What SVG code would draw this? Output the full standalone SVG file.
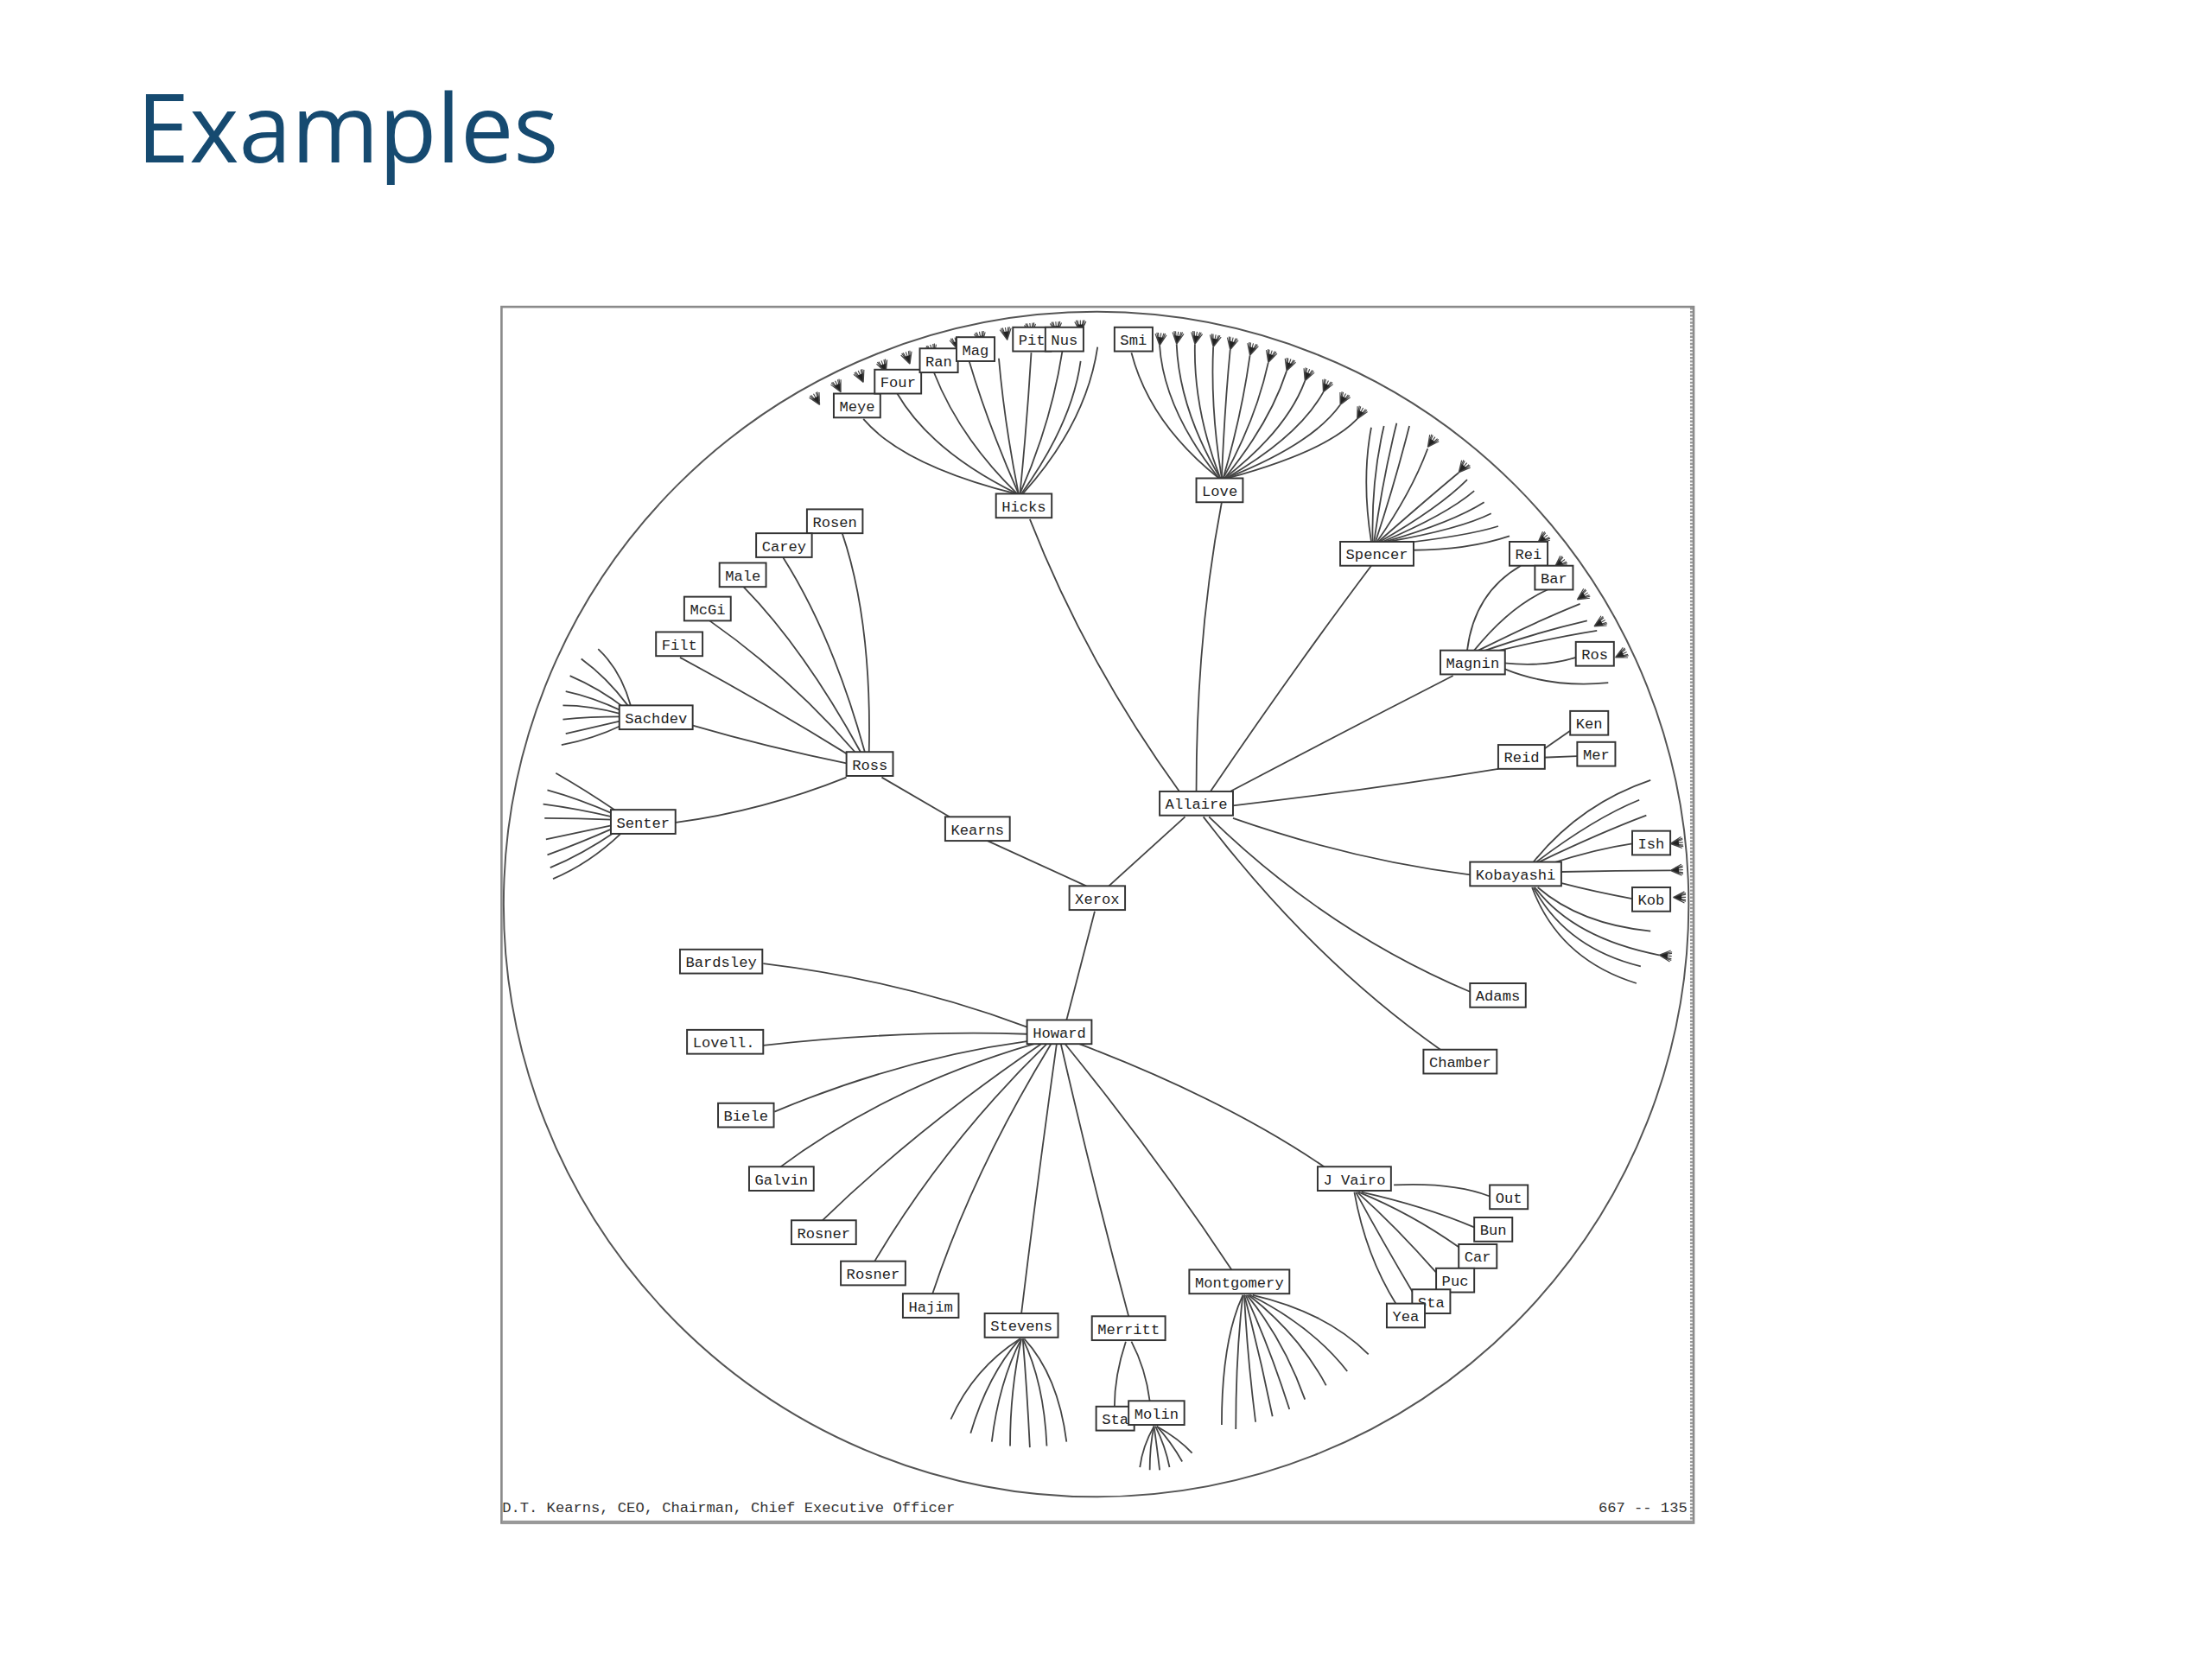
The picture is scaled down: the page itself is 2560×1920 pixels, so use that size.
<svg xmlns="http://www.w3.org/2000/svg" width="2560" height="1920" viewBox="0 0 2560 1920">
<style>
.t{font-family:"Open Sans","Noto Sans",sans-serif;fill:#164a70}
.c path{fill:none;stroke:#444;stroke-width:1.1}
.n rect{fill:#fff;stroke:#333;stroke-width:1.2}
.n text{font-family:"Liberation Mono","DejaVu Sans Mono",monospace;font-size:10.5px;fill:#222}
.f{font-family:"Liberation Mono","DejaVu Sans Mono",monospace;font-size:10.5px;fill:#333}
</style>
<defs>
<g id="tuft">
<path d="M0,0 L-4,-8 M0,0 L-2,-9 M0,0 L0,-9 M0,0 L2,-9 M0,0 L4,-8 M-1,-2 L-3,-9 M1,-2 L3,-9" fill="none" stroke="#444" stroke-width="0.7"/>
<path d="M-2,-6 L2,-6 L0,-1 Z" fill="#222"/>
</g>
</defs>
<rect width="2560" height="1920" fill="#fff"/>
<g transform="scale(1.6327)">
<text class="t" x="97" y="115" font-size="67">Examples</text>
<g id="frame">
<rect x="355.5" y="217.5" width="845" height="862" fill="none" stroke="#8a8a8a" stroke-width="1.6"/>
<line x1="356" y1="1079" x2="1200" y2="1079" stroke="#999" stroke-width="2.5"/>
<line x1="1199" y1="218" x2="1199" y2="1080" stroke="#999" stroke-width="2" stroke-dasharray="1.5 1"/>
<circle cx="777" cy="641" r="420" fill="none" stroke="#555" stroke-width="1.2"/>
<text class="f" x="356" y="1072">D.T. Kearns, CEO, Chairman, Chief Executive Officer</text>
<text class="f" x="1196" y="1072" text-anchor="end">667 -- 135</text>
</g>
<g id="connectors" class="c">
<path d="M770,628 L700,596"/>
<path d="M786,628 L840,579"/>
<path d="M776,646 L756,723"/>
<path d="M673,579 L625,551"/>
<path d="M616,533 Q618,440 597,378"/>
<path d="M613,533 Q590,450 555,395"/>
<path d="M610,533 Q570,460 527,416"/>
<path d="M606,533 Q560,480 503,440"/>
<path d="M603,536 Q545,500 482,466"/>
<path d="M600,541 Q545,530 490,514"/>
<path d="M600,551 Q540,575 479,583"/>
<path d="M447,500 Q440,475 424,460"/>
<path d="M445,500 Q430,480 412,467"/>
<path d="M443,502 Q425,488 404,479"/>
<path d="M441,504 Q420,494 401,490"/>
<path d="M440,506 Q418,500 399,500"/>
<path d="M440,508 Q418,508 399,510"/>
<path d="M440,511 Q418,516 401,520"/>
<path d="M441,514 Q420,524 398,528"/>
<path d="M437,575 Q415,560 394,548"/>
<path d="M435,577 Q410,566 388,560"/>
<path d="M434,579 Q408,573 385,570"/>
<path d="M434,581 Q410,580 386,580"/>
<path d="M434,585 Q410,590 387,595"/>
<path d="M435,587 Q410,598 388,606"/>
<path d="M437,589 Q412,606 390,615"/>
<path d="M440,591 Q418,612 392,623"/>
<path d="M836,561 Q770,470 730,368"/>
<path d="M848,561 Q848,450 866,356"/>
<path d="M858,561 Q920,470 972,401"/>
<path d="M872,561 Q950,520 1030,479"/>
<path d="M874,571 Q970,560 1062,545"/>
<path d="M874,580 Q960,610 1042,620"/>
<path d="M857,579 Q940,660 1042,703"/>
<path d="M853,579 Q930,680 1021,744"/>
<path d="M720,350 Q640,330 612,297"/>
<path d="M721,350 Q660,320 636,279"/>
<path d="M721,350 Q680,310 662,264"/>
<path d="M722,350 Q700,300 687,256"/>
<path d="M722,350 Q712,300 708,254"/>
<path d="M723,350 Q728,300 731,250"/>
<path d="M723,350 Q745,300 753,249"/>
<path d="M724,350 Q760,300 766,256"/>
<path d="M725,350 Q770,300 778,246"/>
<path d="M864,339 Q815,300 802,250"/>
<path d="M864,339 Q825,290 822,245"/>
<path d="M865,339 Q836,290 834,244"/>
<path d="M865,339 Q846,290 847,244"/>
<path d="M866,339 Q858,290 860,246"/>
<path d="M866,339 Q868,290 872,248"/>
<path d="M867,339 Q880,295 886,252"/>
<path d="M867,339 Q890,298 899,257"/>
<path d="M868,339 Q900,300 912,263"/>
<path d="M868,339 Q912,305 925,270"/>
<path d="M869,339 Q920,310 938,278"/>
<path d="M869,339 Q930,315 950,287"/>
<path d="M870,339 Q940,320 962,297"/>
<path d="M972,384 Q965,340 972,303"/>
<path d="M973,384 Q972,340 981,302"/>
<path d="M974,384 Q980,340 990,300"/>
<path d="M975,384 Q988,345 999,302"/>
<path d="M976,384 Q1000,350 1012,318"/>
<path d="M977,384 Q1010,355 1034,335"/>
<path d="M978,384 Q1020,360 1040,340"/>
<path d="M980,384 Q1025,365 1045,348"/>
<path d="M982,384 Q1030,370 1052,356"/>
<path d="M984,384 Q1035,375 1057,364"/>
<path d="M986,386 Q1040,380 1062,373"/>
<path d="M1001,390 Q1040,390 1070,380"/>
<path d="M1040,461 Q1045,420 1078,401"/>
<path d="M1045,461 Q1070,430 1097,418"/>
<path d="M1048,461 Q1090,440 1120,428"/>
<path d="M1050,462 Q1090,448 1125,440"/>
<path d="M1055,463 Q1100,452 1132,447"/>
<path d="M1066,470 Q1095,473 1117,466"/>
<path d="M1066,474 Q1100,488 1140,484"/>
<path d="M1093,532 L1113,518"/>
<path d="M1093,537 L1118,536"/>
<path d="M1087,611 Q1120,570 1170,553"/>
<path d="M1089,611 Q1130,580 1162,567"/>
<path d="M1091,611 Q1135,590 1167,578"/>
<path d="M1100,612 Q1130,602 1157,598"/>
<path d="M1107,618 Q1145,617 1184,617"/>
<path d="M1107,626 Q1130,632 1157,637"/>
<path d="M1090,629 Q1120,655 1170,660"/>
<path d="M1088,629 Q1115,665 1176,677"/>
<path d="M1087,629 Q1110,672 1163,685"/>
<path d="M1086,629 Q1105,680 1160,697"/>
<path d="M728,728 Q640,695 541,683"/>
<path d="M728,733 Q640,730 541,741"/>
<path d="M729,738 Q640,750 549,788"/>
<path d="M733,740 Q630,770 552,828"/>
<path d="M738,740 Q650,800 583,865"/>
<path d="M742,740 Q670,810 620,894"/>
<path d="M745,740 Q690,830 661,917"/>
<path d="M749,740 Q735,840 724,931"/>
<path d="M752,740 Q775,840 800,933"/>
<path d="M755,740 Q820,820 873,900"/>
<path d="M765,740 Q870,780 940,828"/>
<path d="M723,949 Q690,970 674,1006"/>
<path d="M723,949 Q700,975 688,1016"/>
<path d="M724,949 Q708,980 703,1022"/>
<path d="M724,949 Q716,985 716,1025"/>
<path d="M725,949 Q728,985 730,1026"/>
<path d="M725,949 Q740,980 742,1025"/>
<path d="M726,949 Q750,975 756,1022"/>
<path d="M798,951 Q790,975 790,997"/>
<path d="M802,951 Q812,970 815,993"/>
<path d="M818,1011 Q810,1025 808,1040"/>
<path d="M818,1011 Q815,1025 815,1042"/>
<path d="M818,1011 Q820,1025 822,1042"/>
<path d="M819,1011 Q826,1025 829,1040"/>
<path d="M820,1011 Q830,1022 838,1036"/>
<path d="M820,1011 Q836,1020 845,1030"/>
<path d="M881,918 Q866,950 866,1010"/>
<path d="M881,918 Q876,960 876,1013"/>
<path d="M882,918 Q884,960 890,1008"/>
<path d="M882,918 Q893,960 902,1004"/>
<path d="M883,918 Q900,955 914,999"/>
<path d="M884,918 Q910,950 925,992"/>
<path d="M885,918 Q920,945 940,982"/>
<path d="M886,918 Q930,940 955,972"/>
<path d="M888,918 Q940,930 970,960"/>
<path d="M988,840 Q1030,838 1056,848"/>
<path d="M965,845 Q1010,855 1045,870"/>
<path d="M963,845 Q1000,860 1034,884"/>
<path d="M962,845 Q990,870 1018,902"/>
<path d="M961,845 Q980,880 1002,917"/>
<path d="M960,845 Q968,890 990,925"/>
<g id="tufts">
<use href="#tuft" transform="translate(581 287) rotate(-29)"/>
<use href="#tuft" transform="translate(596 278) rotate(-26.5)"/>
<use href="#tuft" transform="translate(612 271) rotate(-24)"/>
<use href="#tuft" transform="translate(628 264) rotate(-21.5)"/>
<use href="#tuft" transform="translate(645 258) rotate(-19)"/>
<use href="#tuft" transform="translate(662 253) rotate(-16.5)"/>
<use href="#tuft" transform="translate(679 248) rotate(-14)"/>
<use href="#tuft" transform="translate(696 244) rotate(-11.5)"/>
<use href="#tuft" transform="translate(714 241) rotate(-9)"/>
<use href="#tuft" transform="translate(731 238) rotate(-6.5)"/>
<use href="#tuft" transform="translate(749 237) rotate(-4)"/>
<use href="#tuft" transform="translate(766 236) rotate(-1.5)"/>
<use href="#tuft" transform="translate(822 245) rotate(6.5)"/>
<use href="#tuft" transform="translate(834 244) rotate(8.2)"/>
<use href="#tuft" transform="translate(847 244) rotate(10)"/>
<use href="#tuft" transform="translate(860 246) rotate(11.9)"/>
<use href="#tuft" transform="translate(872 248) rotate(13.6)"/>
<use href="#tuft" transform="translate(886 252) rotate(15.7)"/>
<use href="#tuft" transform="translate(899 257) rotate(17.6)"/>
<use href="#tuft" transform="translate(912 263) rotate(19.6)"/>
<use href="#tuft" transform="translate(925 270) rotate(21.7)"/>
<use href="#tuft" transform="translate(938 278) rotate(23.9)"/>
<use href="#tuft" transform="translate(950 287) rotate(26)"/>
<use href="#tuft" transform="translate(962 297) rotate(28.3)"/>
<use href="#tuft" transform="translate(1012 317) rotate(36)"/>
<use href="#tuft" transform="translate(1034 335) rotate(40)"/>
<use href="#tuft" transform="translate(1090 385) rotate(50)"/>
<use href="#tuft" transform="translate(1102 402) rotate(53)"/>
<use href="#tuft" transform="translate(1118 425) rotate(57)"/>
<use href="#tuft" transform="translate(1130 444) rotate(60)"/>
<use href="#tuft" transform="translate(1145 466) rotate(64)"/>
<use href="#tuft" transform="translate(1184 598) rotate(84)"/>
<use href="#tuft" transform="translate(1184 617) rotate(87)"/>
<use href="#tuft" transform="translate(1186 636) rotate(90)"/>
<use href="#tuft" transform="translate(1176 677) rotate(95)"/>
</g>
</g>
<g id="nodes" class="n">
<g id="n-xerox"><rect x="758" y="628" width="39.5" height="17"/><text x="762" y="640.5">Xerox</text></g>
<g id="n-kearns"><rect x="670" y="579" width="45.8" height="17"/><text x="674" y="591.5">Kearns</text></g>
<g id="n-allaire"><rect x="822" y="561" width="52" height="17"/><text x="826" y="573.5">Allaire</text></g>
<g id="n-howard"><rect x="728" y="723" width="45.8" height="17"/><text x="732" y="735.5">Howard</text></g>
<g id="n-ross"><rect x="600" y="533" width="33" height="17"/><text x="604" y="545.5">Ross</text></g>
<g id="n-hicks"><rect x="706" y="350" width="39.5" height="17"/><text x="710" y="362.5">Hicks</text></g>
<g id="n-love"><rect x="848" y="339" width="33" height="17"/><text x="852" y="351.5">Love</text></g>
<g id="n-spencer"><rect x="950" y="384" width="52" height="17"/><text x="954" y="396.5">Spencer</text></g>
<g id="n-magnin"><rect x="1021" y="461" width="45.8" height="17"/><text x="1025" y="473.5">Magnin</text></g>
<g id="n-reid"><rect x="1062" y="528" width="33" height="17"/><text x="1066" y="540.5">Reid</text></g>
<g id="n-ken"><rect x="1113" y="504" width="27" height="17"/><text x="1117" y="516.5">Ken</text></g>
<g id="n-mer"><rect x="1118" y="526" width="27" height="17"/><text x="1122" y="538.5">Mer</text></g>
<g id="n-kobayashi"><rect x="1042" y="611" width="64.7" height="17"/><text x="1046" y="623.5">Kobayashi</text></g>
<g id="n-ish"><rect x="1157" y="589" width="27" height="17"/><text x="1161" y="601.5">Ish</text></g>
<g id="n-kob"><rect x="1157" y="629" width="27" height="17"/><text x="1161" y="641.5">Kob</text></g>
<g id="n-adams"><rect x="1042" y="697" width="39.5" height="17"/><text x="1046" y="709.5">Adams</text></g>
<g id="n-chamber"><rect x="1009" y="744" width="52" height="17"/><text x="1013" y="756.5">Chamber</text></g>
<g id="n-rei"><rect x="1070" y="384" width="27" height="17"/><text x="1074" y="396.5">Rei</text></g>
<g id="n-bar"><rect x="1088" y="401" width="27" height="17"/><text x="1092" y="413.5">Bar</text></g>
<g id="n-ros"><rect x="1117" y="455" width="27" height="17"/><text x="1121" y="467.5">Ros</text></g>
<g id="n-rosen"><rect x="572" y="361" width="39.5" height="17"/><text x="576" y="373.5">Rosen</text></g>
<g id="n-carey"><rect x="536" y="378" width="39.5" height="17"/><text x="540" y="390.5">Carey</text></g>
<g id="n-male"><rect x="510" y="399" width="33" height="17"/><text x="514" y="411.5">Male</text></g>
<g id="n-mcgi"><rect x="485" y="423" width="33" height="17"/><text x="489" y="435.5">McGi</text></g>
<g id="n-filt"><rect x="465" y="448" width="33" height="17"/><text x="469" y="460.5">Filt</text></g>
<g id="n-sachdev"><rect x="439" y="500" width="52" height="17"/><text x="443" y="512.5">Sachdev</text></g>
<g id="n-senter"><rect x="433" y="574" width="45.8" height="17"/><text x="437" y="586.5">Senter</text></g>
<g id="n-meye"><rect x="591" y="279" width="33" height="17"/><text x="595" y="291.5">Meye</text></g>
<g id="n-four"><rect x="620" y="262" width="33" height="17"/><text x="624" y="274.5">Four</text></g>
<g id="n-ran"><rect x="652" y="247" width="27" height="17"/><text x="656" y="259.5">Ran</text></g>
<g id="n-mag"><rect x="678" y="239" width="27" height="17"/><text x="682" y="251.5">Mag</text></g>
<g id="n-pit"><rect x="718" y="232" width="27" height="17"/><text x="722" y="244.5">Pit</text></g>
<g id="n-nus"><rect x="741" y="232" width="27" height="17"/><text x="745" y="244.5">Nus</text></g>
<g id="n-smi"><rect x="790" y="232" width="27" height="17"/><text x="794" y="244.5">Smi</text></g>
<g id="n-bardsley"><rect x="482" y="673" width="58.4" height="17"/><text x="486" y="685.5">Bardsley</text></g>
<g id="n-lovell"><rect x="487" y="730" width="54" height="17"/><text x="491" y="742.5">Lovell.</text></g>
<g id="n-biele"><rect x="509" y="782" width="39.5" height="17"/><text x="513" y="794.5">Biele</text></g>
<g id="n-galvin"><rect x="531" y="827" width="45.8" height="17"/><text x="535" y="839.5">Galvin</text></g>
<g id="n-rosner1"><rect x="561" y="865" width="45.8" height="17"/><text x="565" y="877.5">Rosner</text></g>
<g id="n-rosner2"><rect x="596" y="894" width="45.8" height="17"/><text x="600" y="906.5">Rosner</text></g>
<g id="n-hajim"><rect x="640" y="917" width="39.5" height="17"/><text x="644" y="929.5">Hajim</text></g>
<g id="n-stevens"><rect x="698" y="931" width="52" height="17"/><text x="702" y="943.5">Stevens</text></g>
<g id="n-merritt"><rect x="774" y="933" width="52" height="17"/><text x="778" y="945.5">Merritt</text></g>
<g id="n-montgomery"><rect x="843" y="900" width="71" height="17"/><text x="847" y="912.5">Montgomery</text></g>
<g id="n-jvairo"><rect x="934" y="827" width="52" height="17"/><text x="938" y="839.5">J Vairo</text></g>
<g id="n-out"><rect x="1056" y="840" width="27" height="17"/><text x="1060" y="852.5">Out</text></g>
<g id="n-bun"><rect x="1045" y="863" width="27" height="17"/><text x="1049" y="875.5">Bun</text></g>
<g id="n-car"><rect x="1034" y="882" width="27" height="17"/><text x="1038" y="894.5">Car</text></g>
<g id="n-puc"><rect x="1018" y="899" width="27" height="17"/><text x="1022" y="911.5">Puc</text></g>
<g id="n-sta1"><rect x="1001" y="914" width="27" height="17"/><text x="1005" y="926.5">Sta</text></g>
<g id="n-yea"><rect x="983" y="924" width="27" height="17"/><text x="987" y="936.5">Yea</text></g>
<g id="n-sta2"><rect x="777" y="997" width="27" height="17"/><text x="781" y="1009.5">Sta</text></g>
<g id="n-molin"><rect x="800" y="993" width="39.5" height="17"/><text x="804" y="1005.5">Molin</text></g>
</g>
</g>
</svg>
